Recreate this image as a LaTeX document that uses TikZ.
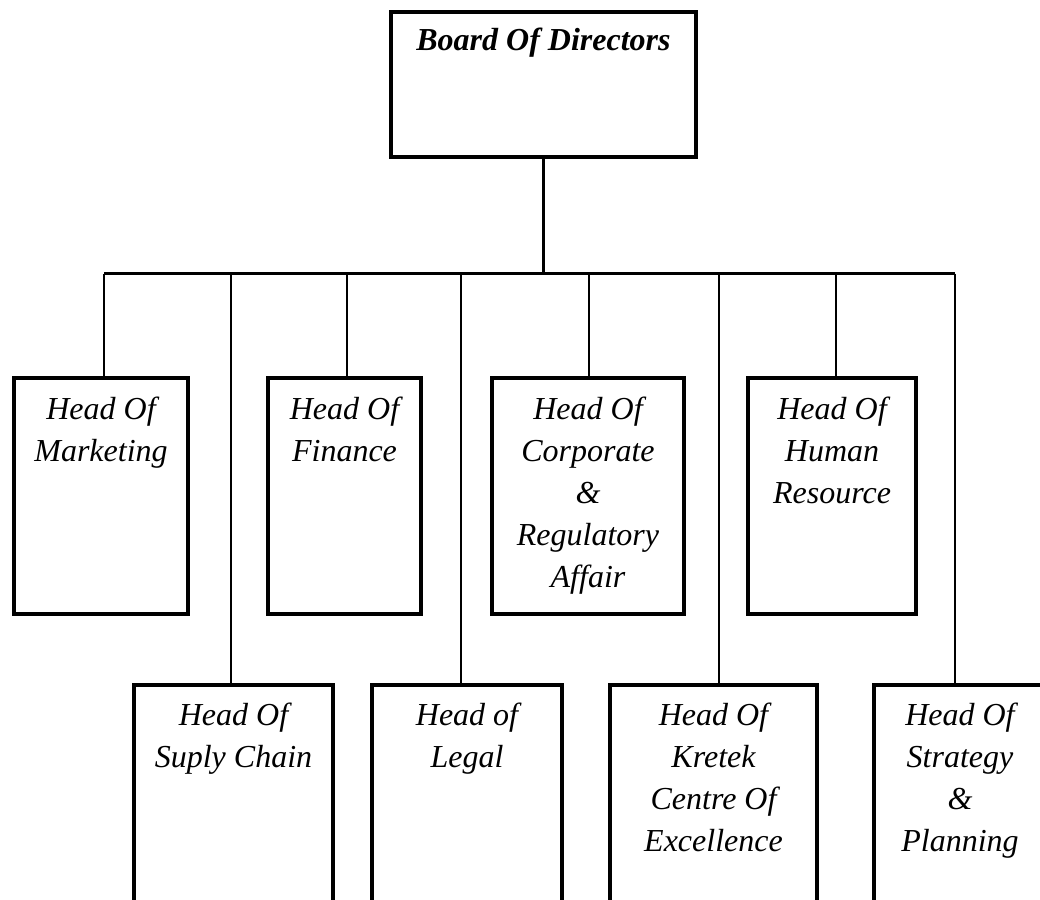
\documentclass[tikz,border=0pt]{standalone}
\usepackage{fontspec}
\setmainfont{Liberation Serif}
\usetikzlibrary{calc}
\begin{document}
\begin{tikzpicture}[x=1pt,y=-1pt,
  box/.style={draw, line width=4pt, inner sep=0pt, outer sep=0pt, anchor=north west},
  boxtext/.style={align=center, font=\fontsize{32}{42}\selectfont\itshape, inner sep=0pt, anchor=base},
  link/.style={line width=2pt},
  trunk/.style={line width=3.5pt}]
\useasboundingbox (0,0) rectangle (1040,899);
\clip (0,0) rectangle (1040,899);

% top box
\node[box, minimum width=305pt, minimum height=145pt] (bod) at (391,12) {};
\node[boxtext, font=\fontsize{32}{42}\selectfont\bfseries\itshape] (bod-t) at ($(bod.north)+(0,38)$) {Board Of Directors};

% upper row
\node[box, minimum width=174pt, minimum height=236pt] (mkt) at (14,378) {};
\node[box, minimum width=153pt, minimum height=236pt] (fin) at (268,378) {};
\node[box, minimum width=192pt, minimum height=236pt] (crp) at (492,378) {};
\node[box, minimum width=168pt, minimum height=236pt] (hr)  at (748,378) {};

% lower row (runs past the bottom edge)
\node[box, minimum width=199pt, minimum height=300pt] (sup) at (134,685) {};
\node[box, minimum width=190pt, minimum height=300pt] (leg) at (372,685) {};
\node[box, minimum width=207pt, minimum height=300pt] (kre) at (610,685) {};
\node[box, minimum width=172pt, minimum height=300pt] (str) at (874,685) {};

% labels: the base anchor sits on the last line, 42pt per extra line
\node[boxtext] (mkt-t) at ($(mkt.north)+(0,41+42)$) {Head Of\\Marketing};
\node[boxtext] (fin-t) at ($(fin.north)+(0,41+42)$) {Head Of\\Finance};
\node[boxtext] (crp-t) at ($(crp.north)+(0,41+4*42)$) {Head Of\\Corporate\\\&\\Regulatory\\Affair};
\node[boxtext] (hr-t)  at ($(hr.north)+(0,41+2*42)$)  {Head Of\\Human\\Resource};
\node[boxtext] (sup-t) at ($(sup.north)+(0,40+42)$) {Head Of\\Suply Chain};
\node[boxtext] (leg-t) at ($(leg.north)+(0,40+42)$) {Head of\\Legal};
\node[boxtext] (kre-t) at ($(kre.north)+(0,40+3*42)$) {Head Of\\Kretek\\Centre Of\\Excellence};
\node[boxtext] (str-t) at ($(str.north)+(0,40+3*42)$) {Head Of\\Strategy\\\&\\Planning};

% bus and junctions
\coordinate (busL) at (104,273.5);
\coordinate (busR) at (955,273.5);
\coordinate (jbod) at (bod.south |- busL);
\coordinate (jmkt) at (104,273.5);
\coordinate (jsup) at (231,273.5);
\coordinate (jfin) at (347,273.5);
\coordinate (jleg) at (461,273.5);
\coordinate (jcrp) at (589,273.5);
\coordinate (jkre) at (719,273.5);
\coordinate (jhr)  at (836,273.5);
\coordinate (jstr) at (955,273.5);

\draw[trunk] (bod.south) -- (jbod);
\draw[line width=3pt] (busL) -- (busR);
\draw[link] (jmkt) -- (jmkt |- mkt.north);
\draw[link] (jfin) -- (jfin |- fin.north);
\draw[link] (jcrp) -- (jcrp |- crp.north);
\draw[link] (jhr)  -- (jhr  |- hr.north);
\draw[link] (jsup) -- (jsup |- sup.north);
\draw[link] (jleg) -- (jleg |- leg.north);
\draw[link] (jkre) -- (jkre |- kre.north);
\draw[link] (jstr) -- (jstr |- str.north);
\end{tikzpicture}
\end{document}
